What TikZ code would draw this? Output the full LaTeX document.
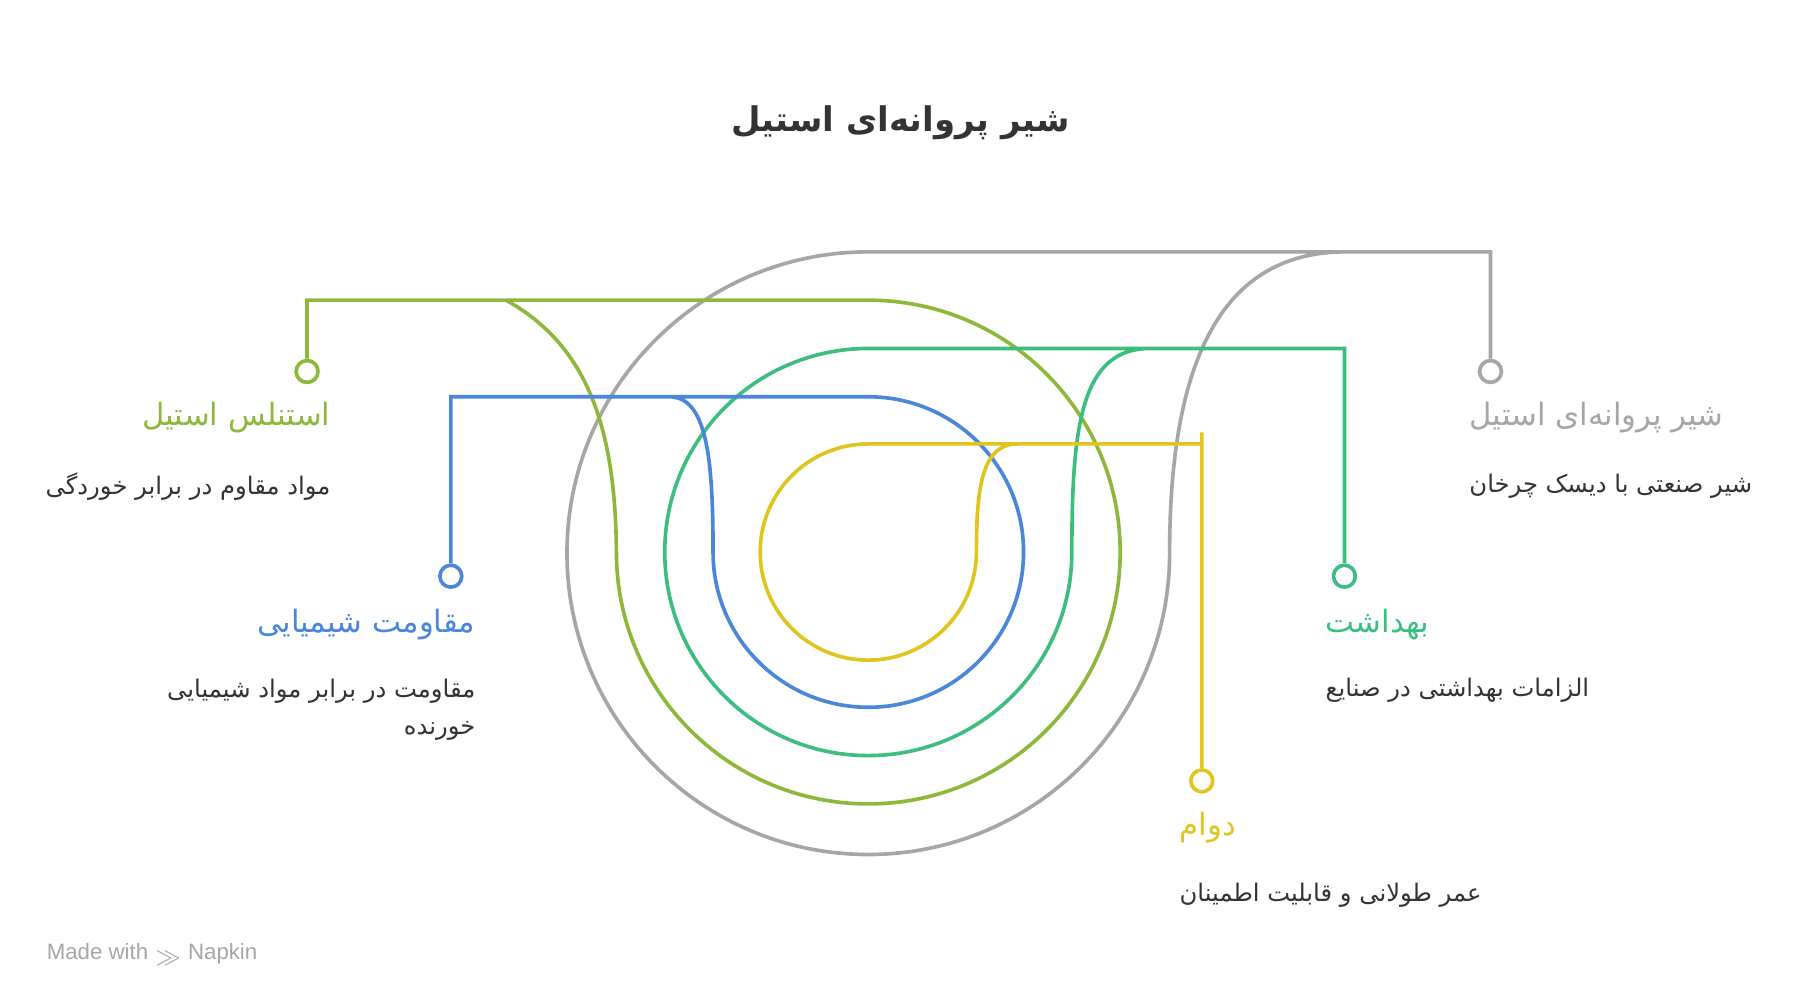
\documentclass[tikz,border=0pt]{standalone}
\usepackage{fontspec}
\newfontfamily\arabicfont[Script=Arabic]{DejaVu Sans}
\setsansfont{Liberation Sans}
\TeXXeTstate=1
\definecolor{cgray}{HTML}{A6A6A6}
\definecolor{colive}{HTML}{8DB83A}
\definecolor{cgreen}{HTML}{3DBE7F}
\definecolor{cblue}{HTML}{4A86DA}
\definecolor{cyellow}{HTML}{E0C51F}
\definecolor{ctext}{HTML}{333333}
\tikzset{
  wire/.style={line width=0.9pt},
  dot/.style={circle,draw,line width=0.9pt,fill=white,minimum size=0.19cm,inner sep=0pt},
  head/.style={font=\arabicfont\fontsize{7.6}{10}\selectfont,inner sep=0pt},
  desc/.style={font=\arabicfont\fontsize{6}{9}\selectfont,text=ctext,inner sep=0pt,align=right},
}
\begin{document}
\begin{tikzpicture}[x=0.01cm,y=-0.01cm]
\useasboundingbox (0,0) rectangle (1566,876);
\node[font=\arabicfont\bfseries\fontsize{8.4}{12}\selectfont,text=ctext] (title) at (783,107) {\beginR شیر پروانه‌ای استیل\endR};

% dots
\node[dot,draw=cgray] (d1) at (1296,323) {};
\node[dot,draw=colive] (d2) at (267,323) {};
\node[dot,draw=cgreen] (d3) at (1169,501) {};
\node[dot,draw=cblue] (d4) at (392,501) {};
\node[dot,draw=cyellow] (d5) at (1045,679) {};

% loops
\draw[wire,cgray] (d1) -- (1296,219) -- (755,219) arc[start angle=-90,end angle=-360,radius=262]
  .. controls (1017,300) and (1070,219) .. (1170,219);
\draw[wire,colive] (d2) -- (267,261) -- (755,261) arc[start angle=-90,end angle=180,radius=219]
  .. controls (535,370) and (510,300) .. (440,261);
\draw[wire,cgreen] (d3) -- (1169,303) -- (755,303) arc[start angle=-90,end angle=-360,radius=177]
  .. controls (932,370) and (940,303) .. (1000,303);
\draw[wire,cblue] (d4) -- (392,345) -- (755,345) arc[start angle=-90,end angle=180,radius=135]
  .. controls (620,400) and (615,345) .. (582,345);
\draw[wire,cyellow] (d5) -- (1045,376) -- (1045,386) -- (755,386) arc[start angle=-90,end angle=-360,radius=94]
  .. controls (849,420) and (855,386) .. (885,386);

% labels
\node[head,text=cgray,anchor=west] (t1) at (1277,363) {\beginR شیر پروانه‌ای استیل\endR};
\node[desc,anchor=west] (s1) at (1277,423) {\beginR شیر صنعتی با دیسک چرخان\endR};
\node[head,text=colive,anchor=east] (t2) at (288,363) {\beginR استنلس استیل\endR};
\node[desc,anchor=east] (s2) at (288,423) {\beginR مواد مقاوم در برابر خوردگی\endR};
\node[head,text=cgreen,anchor=west] (t3) at (1152,543) {\beginR بهداشت\endR};
\node[desc,anchor=west] (s3) at (1152,600) {\beginR الزامات بهداشتی در صنایع\endR};
\node[head,text=cblue,anchor=east] (t4) at (414,543) {\beginR مقاومت شیمیایی\endR};
\node[desc,anchor=north east] (s4) at (414,590) {\beginR مقاومت در برابر مواد شیمیایی\endR\\\beginR خورنده\endR};
\node[head,text=cyellow,anchor=west] (t5) at (1025,720) {\beginR دوام\endR};
\node[desc,anchor=west] (s5) at (1025,778) {\beginR عمر طولانی و قابلیت اطمینان\endR};

\node[font=\sffamily\fontsize{5.5}{7}\selectfont,text=cgray,anchor=west,inner sep=0pt] (mark) at (40,830) {Made with \raisebox{-0.3ex}{$\gg$} Napkin};
\end{tikzpicture}
\end{document}
